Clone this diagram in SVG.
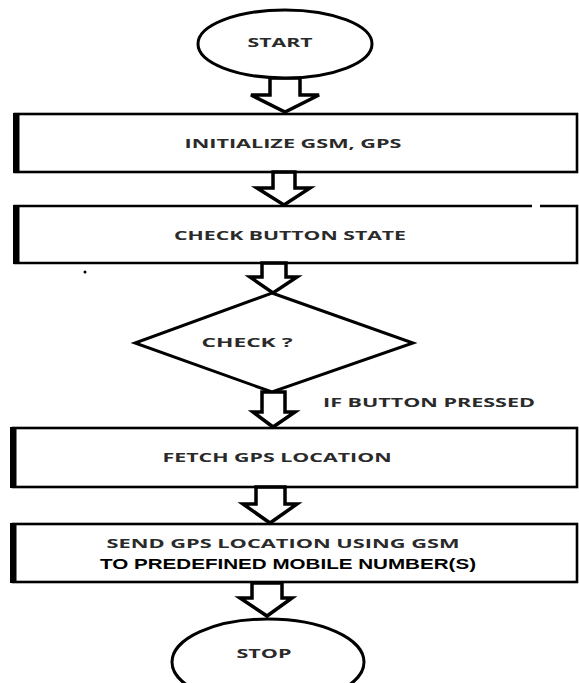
<svg xmlns="http://www.w3.org/2000/svg" width="579" height="683" viewBox="0 0 579 683">
<style>
.shape{fill:#fff;stroke:#000;stroke-width:3}
.box{fill:none;stroke:#000;stroke-width:2.6}
.thick{fill:#000}
.arrow{fill:#fff;stroke:#000;stroke-width:3.5;stroke-linejoin:miter}
.t{font-family:"Open Sans","Liberation Sans",sans-serif;font-weight:700;font-size:13px;fill:#2a2a2a}
.a{font-family:"Liberation Sans",Arial,sans-serif;font-weight:700;font-size:15.5px;fill:#000}
</style>
<rect width="579" height="683" fill="#fff"/>
<g id="connectors">
<polygon class="arrow" points="270,78 300,78 300,95 319,95 285,112 251,95 270,95"/>
<polygon class="arrow" points="273,172 295,172 295,188 310,188 284,205 257,188 273,188"/>
<polygon class="arrow" points="262,263 286,263 286,277 297,277 273,293 250,277 262,277"/>
<polygon class="arrow" points="262,392 285,392 285,412 295,412 273,427 253,412 262,412"/>
<polygon class="arrow" points="256,487 285,487 285,504 297,504 270,523 243,504 256,504"/>
<polygon class="arrow" points="252,583 282,583 282,598 292,598 267,616 240,598 252,598"/>
</g>
<g id="start">
<ellipse class="shape" cx="285" cy="44" rx="87" ry="34"/>
<text class="t" x="280" y="47" text-anchor="middle" textLength="65" lengthAdjust="spacingAndGlyphs">START</text>
</g>
<g id="init">
<rect class="box" x="15" y="114" width="562" height="58"/>
<rect class="thick" x="13" y="113" width="6.5" height="60"/>
<text class="t" x="293" y="148" text-anchor="middle" textLength="217" lengthAdjust="spacingAndGlyphs">INITIALIZE GSM, GPS</text>
</g>
<g id="checkbutton">
<path class="box" d="M532,206 H15 V263 H577 V206 H540"/>
<rect class="thick" x="13" y="205" width="6.5" height="59"/>
<text class="t" x="290" y="240" text-anchor="middle" textLength="232" lengthAdjust="spacingAndGlyphs">CHECK BUTTON STATE</text>
<circle cx="85" cy="272" r="1.5" fill="#000"/>
</g>
<g id="decision">
<polygon class="shape" points="272,293 413,343 272,392 135,343"/>
<text class="t" x="247" y="347" text-anchor="middle" textLength="91" lengthAdjust="spacingAndGlyphs">CHECK  ?</text>
<text class="t" x="429" y="407" text-anchor="middle" textLength="212" lengthAdjust="spacingAndGlyphs">IF BUTTON PRESSED</text>
</g>
<g id="fetch">
<rect class="box" x="13" y="428" width="564" height="59"/>
<rect class="thick" x="10" y="427" width="6.5" height="61"/>
<text class="t" x="277" y="462" text-anchor="middle" textLength="229" lengthAdjust="spacingAndGlyphs">FETCH GPS LOCATION</text>
</g>
<g id="send">
<rect class="box" x="13" y="524" width="564" height="58"/>
<rect class="thick" x="10" y="523" width="6.5" height="60"/>
<text class="t" x="283" y="548" text-anchor="middle" textLength="353" lengthAdjust="spacingAndGlyphs">SEND GPS LOCATION USING GSM</text>
<text class="a" x="288" y="569" text-anchor="middle" textLength="376" lengthAdjust="spacingAndGlyphs">TO PREDEFINED MOBILE NUMBER(S)</text>
</g>
<g id="stop">
<ellipse class="shape" cx="268" cy="662" rx="96" ry="43"/>
<text class="t" x="264" y="658" text-anchor="middle" textLength="55" lengthAdjust="spacingAndGlyphs">STOP</text>
</g>
</svg>
